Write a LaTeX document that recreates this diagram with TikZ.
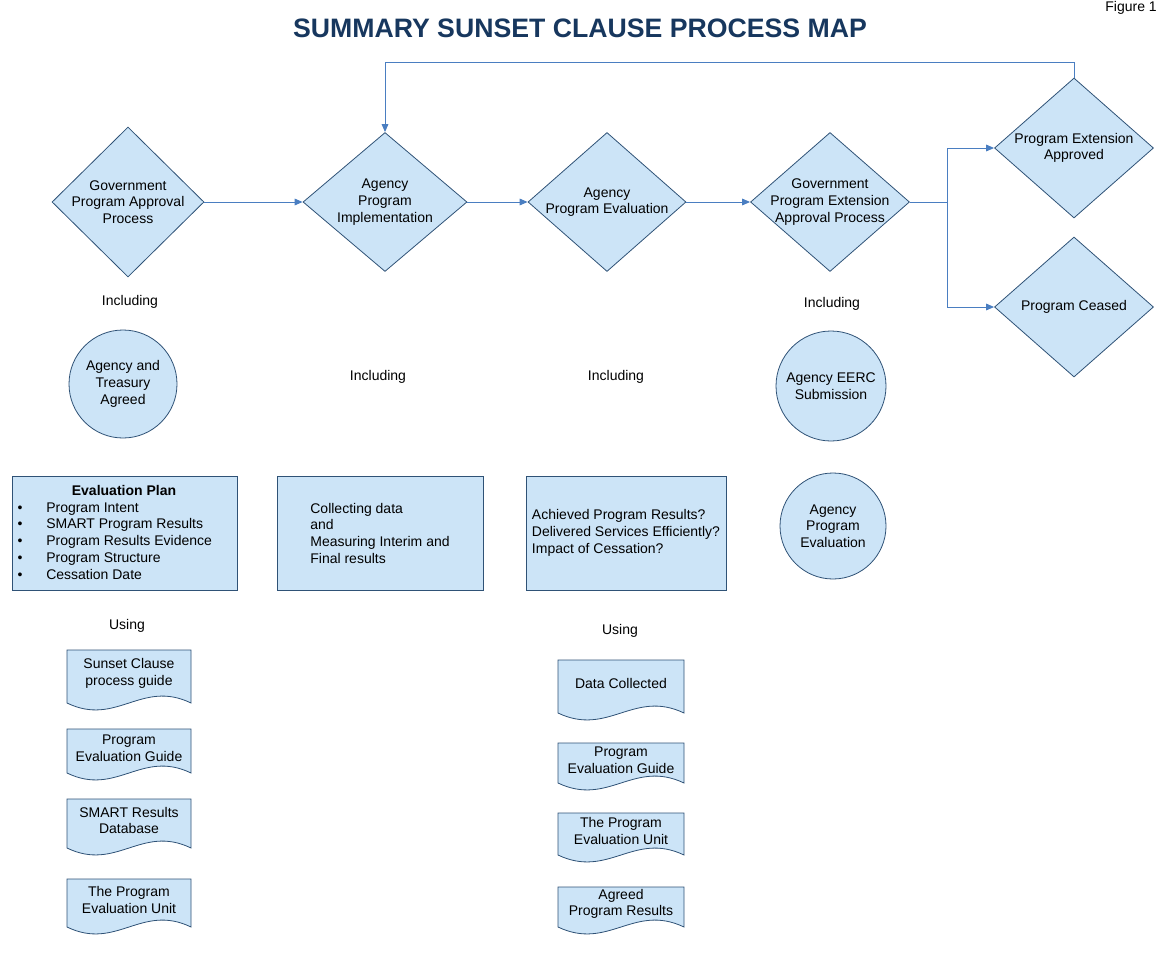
\documentclass[tikz,border=0pt]{standalone}
\usepackage{fontspec}
\setmainfont{Liberation Sans}
\usetikzlibrary{shapes.geometric,arrows.meta}

\definecolor{shapefill}{RGB}{204,228,247}
\definecolor{shapeline}{RGB}{47,82,118}
\definecolor{flowblue}{RGB}{74,126,193}
\definecolor{titleblue}{RGB}{23,55,94}
\newcommand{\bodyfont}{\fontsize{10.5}{12.5}\selectfont}

\tikzset{
  decision/.style={diamond, draw=shapeline, fill=shapefill, line width=0.6pt, inner sep=-12pt, align=center, font=\bodyfont},
  circ/.style={circle, draw=shapeline, fill=shapefill, line width=0.6pt, inner sep=0pt, align=center, font=\bodyfont},
  box/.style={rectangle, draw=shapeline, fill=shapefill, line width=0.6pt, inner sep=0pt, align=left, font=\bodyfont},
  docu/.style={draw=shapeline, fill=shapefill, line width=0.6pt},
  lbl/.style={inner sep=0pt, align=center, font=\bodyfont},
  item/.style={inner sep=0pt, font=\bodyfont, text height=1.5ex, text depth=.25ex},
  flow/.style={draw=flowblue, line width=0.75pt, -{Triangle[length=6pt,width=5pt]}}
}

\begin{document}
\begin{tikzpicture}[x=0.75pt,y=0.75pt,yscale=-1,xscale=1]
\useasboundingbox (0,0) rectangle (1159,956);

% Title
\node[inner sep=0pt, anchor=base, text=titleblue, font=\fontsize{20}{24}\selectfont\bfseries] (title) at (580,38) {SUMMARY SUNSET CLAUSE PROCESS MAP};
\node[inner sep=0pt, anchor=base east, font=\bodyfont] (fig) at (1157,12) {Figure 1};

%Decisions
\node[decision, minimum width=114pt, minimum height=112.5pt] (govapp) at (128,202) {Government\\Program Approval\\Process};
\node[decision, minimum width=123pt, minimum height=104.25pt] (agimp) at (385,202) {Agency\\Program\\Implementation};
\node[decision, minimum width=118.5pt, minimum height=104.25pt] (ageval) at (607,202) {Agency\\Program Evaluation};
\node[decision, minimum width=119.25pt, minimum height=104.25pt] (govext) at (830,202) {Government\\Program Extension\\Approval Process};
\node[decision, minimum width=119.25pt, minimum height=105pt] (extok) at (1074,148) {Program Extension\\Approved};
\node[decision, minimum width=119.25pt, minimum height=105pt] (ceased) at (1074,307) {Program Ceased};

%Connectors
\coordinate (split) at (947,202);
\coordinate (loop) at (385,63);
\draw[flow] (govapp.east) -- (agimp.west);
\draw[flow] (agimp.east) -- (ageval.west);
\draw[flow] (ageval.east) -- (govext.west);
\draw[flow] (govext.east) -- (split) |- (extok.west);
\draw[flow] (split) |- (ceased.west);
\draw[flow] (extok.north) |- (loop) -- (agimp.north);

% Text Node
\node[lbl] (incl1) at (130,302) {Including};
\node[lbl] (incl2) at (378,377) {Including};
\node[lbl] (incl3) at (616,377) {Including};
\node[lbl] (incl4) at (832,304) {Including};
\node[lbl] (using1) at (127,626) {Using};
\node[lbl] (using2) at (620,631) {Using};

%Circles
\node[circ, minimum size=81pt] (agreed) at (123,384) {Agency and\\Treasury\\Agreed};
\node[circ, minimum size=82.5pt] (eerc) at (831,386) {Agency EERC\\Submission};
\node[circ, minimum size=79.5pt] (progeval) at (833,526) {Agency\\Program\\Evaluation};

%Boxes
\node[box, minimum width=168.75pt, minimum height=85.5pt] (plan) at (124.5,533) {};
\node[box, minimum width=154.5pt, minimum height=85.5pt] (collect) at (380,533) {Collecting data\\and\\Measuring Interim and\\Final results};
\node[box, minimum width=150pt, minimum height=85.5pt] (achieve) at (626,533) {Achieved Program Results?\\Delivered Services Efficiently?\\Impact of Cessation?};

\node[item, font=\bodyfont\bfseries] (plantitle) at (124,491) {Evaluation Plan};
\foreach \y/\t [count=\i] in {508/Program Intent, 524.5/SMART Program Results, 541/Program Results Evidence, 558/Program Structure, 575/Cessation Date}{
  \node[item] (bul\i) at (20,\y) {\textbullet};
  \node[item, anchor=west] (plan\i) at (46,\y) {\t};
}

%Documents
\foreach \ya/\yb/\nm/\txt in {650/703/guide/{Sunset Clause\\process guide}, 729/773/evguide/{Program\\Evaluation Guide}, 799/848/smartdb/{SMART Results\\Database}, 879/927/evunit/{The Program\\Evaluation Unit}}{
  \draw[docu] (67,\ya) -- (191,\ya) -- (191,\yb) .. controls (141.4,\yb-24) and (116.6,\yb+24) .. (67,\yb) -- cycle;
  \node[lbl] (\nm) at (129,{(\ya+\yb)/2-3}) {\txt};
}
\foreach \ya/\yb/\nm/\txt in {660/713/datacol/{Data Collected}, 743/783/evguideb/{Program\\Evaluation Guide}, 813/855/evunitb/{The Program\\Evaluation Unit}, 887/927/agreedres/{Agreed\\Program Results}}{
  \draw[docu] (558,\ya) -- (684,\ya) -- (684,\yb) .. controls (633.6,\yb-24) and (608.4,\yb+24) .. (558,\yb) -- cycle;
  \node[lbl] (\nm) at (621,{(\ya+\yb)/2-3}) {\txt};
}

\end{tikzpicture}
\end{document}
